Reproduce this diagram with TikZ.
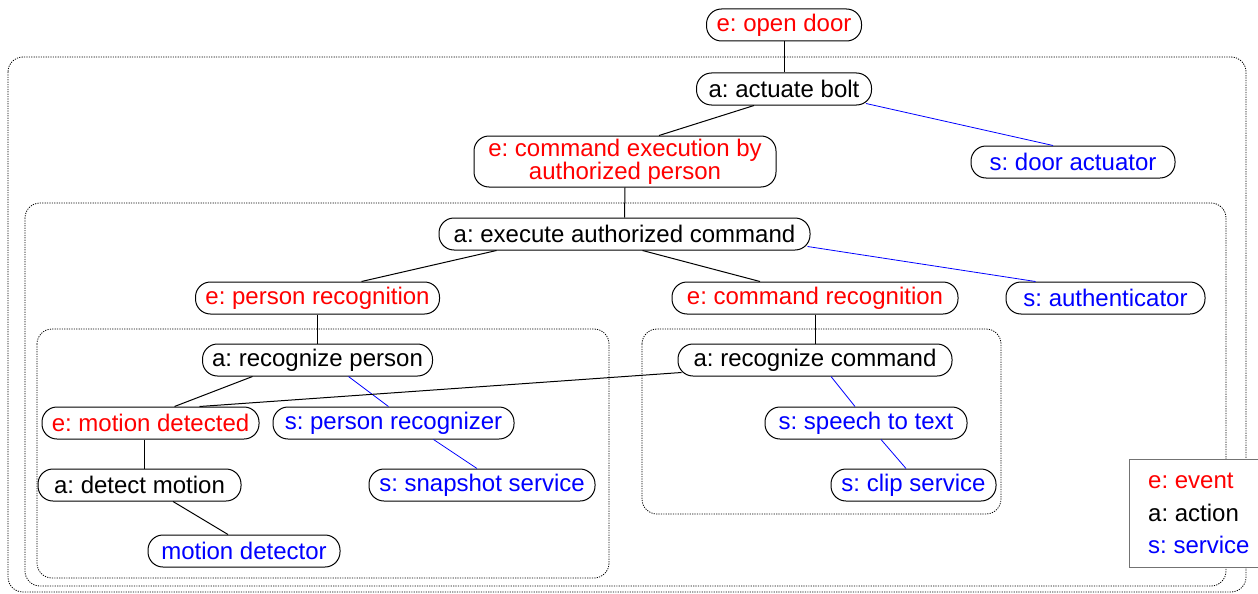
\documentclass[tikz,border=0pt]{standalone}
\usepackage{fontspec}
\setmainfont{Liberation Sans}
\usetikzlibrary{calc}
\definecolor{evcol}{rgb}{1,0,0}
\definecolor{svcol}{rgb}{0,0,1}
\begin{document}
\frenchspacing
\begin{tikzpicture}[x=1pt,y=-1pt,
  box/.style={draw, line width=1pt, rounded corners=15pt, inner sep=0pt,
    minimum height=32pt, align=center, font=\fontsize{24}{20}\selectfont},
  ev/.style={box, text=evcol},
  ac/.style={box, text=black},
  sv/.style={box, text=svcol},
  link/.style={line width=1pt},
  slink/.style={draw=svcol, line width=0.8pt},
  group/.style={draw=black, line width=0.8pt, dash pattern=on 1.2pt off 1.2pt, rounded corners=15pt},
  legtext/.style={anchor=west, inner sep=0pt, font=\fontsize{24}{20}\selectfont}]
\useasboundingbox (0,0) rectangle (1258,594);

% nested scopes
\draw[group] (8,57) rectangle (1246,592);
\draw[group] (25,203) rectangle (1226,586);
\draw[group] (37,329) rectangle (609,578);
\draw[group] (642,329) rectangle (1001,514);

% nodes
\node[ev, minimum width=155pt] (open) at (784,25) {e: open door};
\node[ac, minimum width=175pt] (bolt) at (784,89) {a: actuate bolt};
\node[ev, minimum width=302pt, minimum height=51pt] (cmdexec) at (625,161.5) {e: command execution by\\authorized person};
\node[sv, minimum width=204pt] (door) at (1073,162) {s: door actuator};
\node[ac, minimum width=371pt] (exec) at (624.5,234) {a: execute authorized command};
\node[ev, minimum width=244pt] (prec) at (317.5,298) {e: person recognition};
\node[ev, minimum width=286pt] (crec) at (815,298) {e: command recognition};
\node[sv, minimum width=199pt] (auth) at (1105.5,298) {s: authenticator};
\node[ac, minimum width=230pt] (rperson) at (317.5,360) {a: recognize person};
\node[ac, minimum width=274pt] (rcmd) at (815,360) {a: recognize command};
\node[ev, minimum width=217pt] (motion) at (150.5,423) {e: motion detected};
\node[sv, minimum width=241pt] (precog) at (393.5,423) {s: person recognizer};
\node[sv, minimum width=202pt] (speech) at (866,423) {s: speech to text};
\node[ac, minimum width=203pt] (detect) at (139.5,485) {a: detect motion};
\node[sv, minimum width=226pt] (snap) at (482,485) {s: snapshot service};
\node[sv, minimum width=165pt] (clip) at (913.5,485) {s: clip service};
\node[sv, minimum width=192pt] (mdet) at (244,551) {motion detector};

% connectors
\draw[link] (open.south) -- (bolt.north);
\draw[link] ([xshift=-30pt]bolt.south) -- ([xshift=34pt]cmdexec.north);
\draw[slink] ([xshift=-6pt,yshift=2pt]bolt.south east) -- ([xshift=-20pt]door.north);
\draw[link] (cmdexec.south) -- (exec.north);
\draw[link] ([xshift=-128pt]exec.south) -- ([xshift=44pt]prec.north);
\draw[link] ([xshift=18pt]exec.south) -- ([xshift=-55pt]crec.north);
\draw[slink] ([xshift=-3pt,yshift=4pt]exec.south east) -- ([xshift=-70pt]auth.north);
\draw[link] (prec.south) -- (rperson.north);
\draw[link] (crec.south) -- (rcmd.north);
\draw[link] ([xshift=-65pt]rperson.south) -- ([xshift=24pt]motion.north);
\draw[slink] ([xshift=31pt]rperson.south) -- ([xshift=-5pt]precog.north);
\draw[link] ([xshift=4pt,yshift=4pt]rcmd.south west) -- ([xshift=49pt]motion.north);
\draw[slink] ([xshift=16pt]rcmd.south) -- ([xshift=-11pt]speech.north);
\draw[slink] ([xshift=15pt]speech.south) -- ([xshift=-7.5pt]clip.north);
\draw[slink] ([xshift=40pt]precog.south) -- ([xshift=-5pt]snap.north);
\draw[link] ([xshift=-6.5pt]motion.south) -- ([xshift=-6.5pt]motion.south |- detect.north);
\draw[link] ([xshift=33.5pt]detect.south) -- ([xshift=-16pt]mdet.north);

% legend
\node[draw=black!55, fill=white, line width=0.8pt, minimum width=131pt, minimum height=108pt, inner sep=0pt] (legend) at (1194.5,513) {};
\node[legtext, text=evcol] (lev) at (1148,481) {e: event};
\node[legtext, text=black] (lac) at (1148,513) {a: action};
\node[legtext, text=svcol] (lsv) at (1148,545) {s: service};
\end{tikzpicture}
\end{document}
